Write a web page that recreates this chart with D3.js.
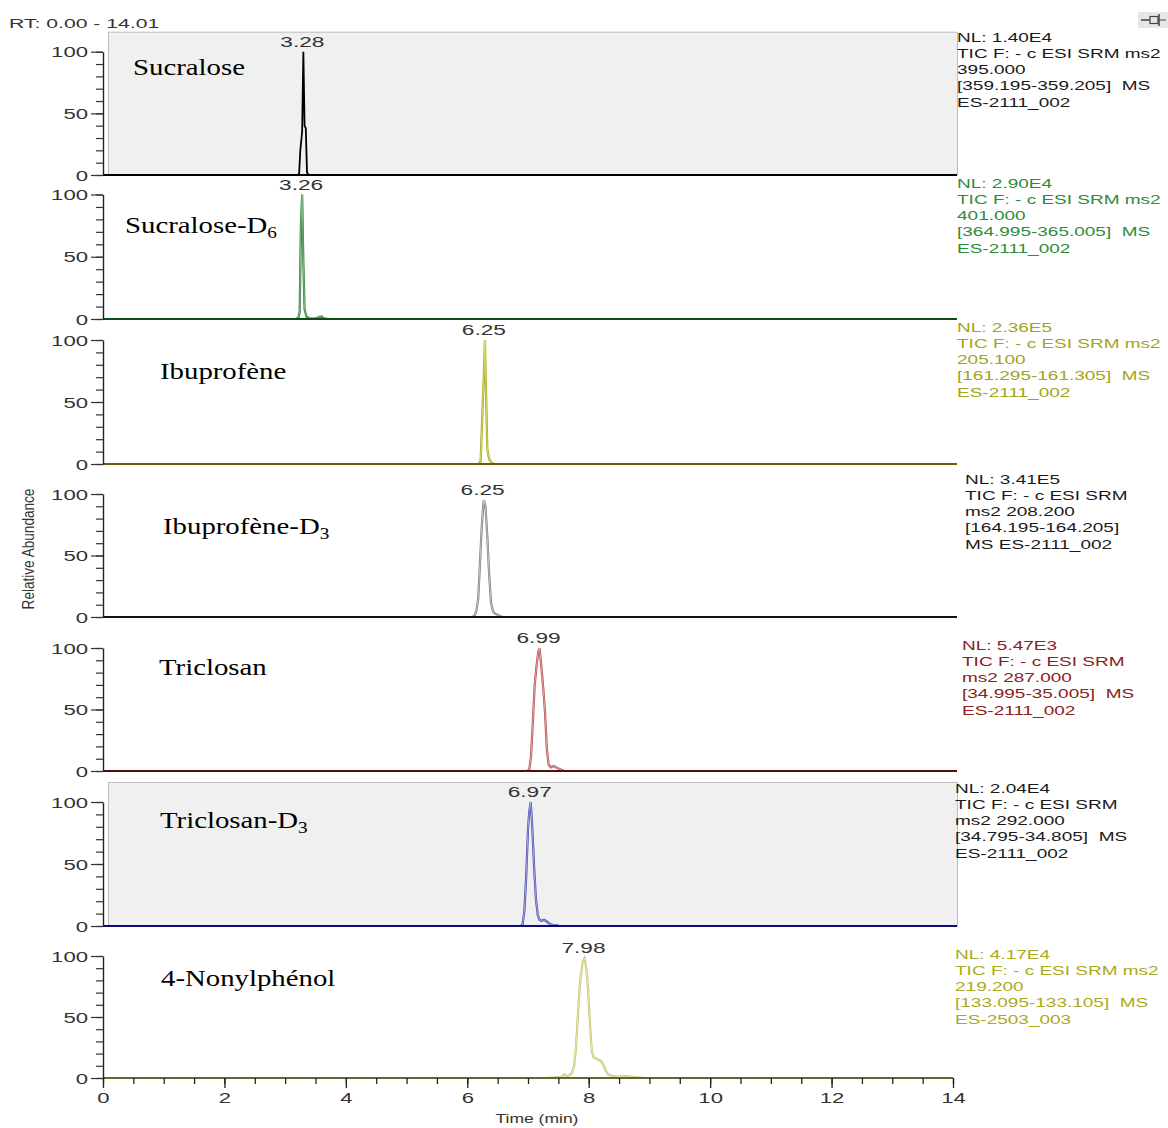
<!DOCTYPE html>
<html><head><meta charset="utf-8">
<script src="https://cdn.jsdelivr.net/npm/d3@7"></script>
<style>body{margin:0;background:#fff} svg{display:block} text{white-space:pre}</style>
</head><body><svg id="c" width="1168" height="1128"></svg>
<script>
// ---------------- DATA ----------------
const compoundNames = ["Sucralose", "Sucralose-D", "Ibuprofène", "Ibuprofène-D", "Triclosan", "Triclosan-D", "4-Nonylphénol"];
const compoundSubscripts = ["", "6", "", "3", "", "3", ""];
const peakLabels = ["3.28", "3.26", "6.25", "6.25", "6.99", "6.97", "7.98"];
const annotations = [
  ["NL: 1.40E4", "TIC F: - c ESI SRM ms2", "395.000", "[359.195-359.205]  MS", "ES-2111_002"],
  ["NL: 2.90E4", "TIC F: - c ESI SRM ms2", "401.000", "[364.995-365.005]  MS", "ES-2111_002"],
  ["NL: 2.36E5", "TIC F: - c ESI SRM ms2", "205.100", "[161.295-161.305]  MS", "ES-2111_002"],
  ["NL: 3.41E5", "TIC F: - c ESI SRM", "ms2 208.200", "[164.195-164.205]", "MS ES-2111_002"],
  ["NL: 5.47E3", "TIC F: - c ESI SRM", "ms2 287.000", "[34.995-35.005]  MS", "ES-2111_002"],
  ["NL: 2.04E4", "TIC F: - c ESI SRM", "ms2 292.000", "[34.795-34.805]  MS", "ES-2111_002"],
  ["NL: 4.17E4", "TIC F: - c ESI SRM ms2", "219.200", "[133.095-133.105]  MS", "ES-2503_003"]
];
const xMajorTicks = [0, 2, 4, 6, 8, 10, 12, 14];
const yMajorTicks = [0, 50, 100];
const rangeLabel = "RT: 0.00 - 14.01";
const xTitle = "Time (min)";
const yTitle = "Relative Abundance";

// traces: [time (min), relative abundance (%)]
const sucraloseTrace = [[0,0],[3.20,0],[3.23,1],[3.25,20],[3.28,35],[3.30,100],[3.32,40],[3.34,38],[3.36,2],[3.39,0],[14,0]];
const sucraloseD6Trace = [[0,0],[3.18,0],[3.22,1],[3.24,6],[3.26,76],[3.28,100],[3.30,45],[3.32,8],[3.35,2],[3.40,0.5],[3.50,0.3],[3.56,1.5],[3.60,2],[3.64,0.5],[3.70,0],[14,0]];
const ibuprofenTrace = [[0,0],[6.18,0],[6.22,2],[6.24,30],[6.27,68],[6.29,100],[6.31,55],[6.33,12],[6.36,4],[6.40,1],[6.44,0],[14,0]];
const ibuprofenD3Trace = [[0,0],[6.08,0],[6.12,1],[6.15,5],[6.18,15],[6.21,45],[6.24,75],[6.27,95],[6.30,90],[6.33,65],[6.36,35],[6.39,12],[6.42,5],[6.45,3],[6.49,2],[6.53,1],[6.58,0],[14,0]];
const triclosanTrace = [[0,0],[6.98,0],[7.02,1],[7.05,12],[7.08,40],[7.11,70],[7.14,85],[7.17,97],[7.19,100],[7.22,85],[7.25,68],[7.28,48],[7.31,18],[7.34,5],[7.38,3],[7.42,4],[7.46,3],[7.50,2],[7.55,1],[7.60,0],[14,0]];
const triclosanD3Trace = [[0,0],[6.88,0],[6.91,1],[6.94,12],[6.97,40],[7.00,78],[7.02,92],[7.045,100],[7.07,80],[7.10,48],[7.13,22],[7.16,9],[7.19,5],[7.22,4],[7.26,5],[7.30,4],[7.35,2],[7.40,1],[7.47,0.5],[7.52,0],[14,0]];
const nonylphenolTrace = [[0,0],[7.30,0],[7.45,0.5],[7.55,1],[7.60,3],[7.63,1.5],[7.68,2],[7.72,4],[7.76,10],[7.79,25],[7.82,50],[7.86,80],[7.90,95],[7.93,98],[7.96,90],[7.99,72],[8.02,45],[8.05,22],[8.08,17],[8.12,16],[8.16,15],[8.20,14],[8.24,11],[8.28,6],[8.32,3],[8.36,2],[8.42,1.5],[8.50,1],[8.60,1.5],[8.70,1],[8.80,0.5],[8.90,0],[14,0]];
const traces = [sucraloseTrace, sucraloseD6Trace, ibuprofenTrace, ibuprofenD3Trace, triclosanTrace, triclosanD3Trace, nonylphenolTrace];

// ---------------- LAYOUT & STYLE ----------------
const panelY100 = [51.7, 194.5, 340, 494, 648, 802, 956];
const panelY0 = [175, 319, 464, 617, 771, 926, 1078];
const grayPanel = [true, false, false, false, false, true, false];
const nameX = [133, 125, 160, 163, 159, 160, 161];
const nameBaseline = [75, 233, 379, 534, 675, 828, 986];
const annoX = [957, 957, 957, 965, 962, 955, 955];
const annoFirstCenter = [37, 183, 327, 479, 645, 788, 954];
const traceColor = ["#000000", "#2f7a34", "#a3a31c", "#7a7a7a", "#b24a4a", "#4848b0", "#c2c270"];
const traceInner = [null, "#a6d6a6", "#f2f28a", "#e2e2e2", "#f2c8c8", "#cacaf4", "#f6f6cc"];
const baselineColor = ["#000000", "#0b4d12", "#6e5a0a", "#111111", "#5a0c0c", "#0a0a7a", "#66662a"];
const annoColor = ["#1a1a1a", "#2e8b3a", "#a3a320", "#1a1a1a", "#8a2020", "#1a1a1a", "#aaaa20"];

const SANS = "'Liberation Sans', Arial, sans-serif";
const SERIF = "'Liberation Serif', 'Times New Roman', serif";
const SX = 1.58;
const TICK_FS = 14;

const svg = d3.select("#c");
const x = d3.scaleLinear().domain([0, 14]).range([103, 953]);

function sText(parent, px, py, str, o = {}) {
  return parent.append("text")
    .attr("transform", `translate(${px},${py}) scale(${o.sx ?? SX},1)`)
    .attr("text-anchor", o.anchor || "start")
    .attr("font-family", o.family || SANS)
    .attr("font-size", o.size || 13)
    .attr("fill", o.fill || "#2a2a2a")
    .text(str);
}

// header
sText(svg, 9, 28, rangeLabel, {size: 13.5, fill: "#333", sx: 1.57});
// pin icon
const pin = svg.append("g");
pin.append("rect").attr("x", 1138).attr("y", 12).attr("width", 30).attr("height", 16).attr("fill", "#e6e6e6");
pin.append("line").attr("x1", 1141).attr("x2", 1150).attr("y1", 20).attr("y2", 20).attr("stroke", "#444").attr("stroke-width", 1.5);
pin.append("rect").attr("x", 1150).attr("y", 16.5).attr("width", 8).attr("height", 7).attr("fill", "none").attr("stroke", "#444").attr("stroke-width", 1.2);
pin.append("line").attr("x1", 1159).attr("x2", 1159).attr("y1", 14).attr("y2", 26).attr("stroke", "#444").attr("stroke-width", 1.5);
pin.append("line").attr("x1", 1159).attr("x2", 1166).attr("y1", 20).attr("y2", 20).attr("stroke", "#444").attr("stroke-width", 1);

traces.forEach((data, i) => {
  const y = d3.scaleLinear().domain([0, 100]).range([panelY0[i], panelY100[i]]);
  const g = svg.append("g");

  if (grayPanel[i]) {
    g.append("rect")
      .attr("x", 108.5).attr("y", panelY100[i] - 19.5)
      .attr("width", 849).attr("height", panelY0[i] - panelY100[i] + 19.5)
      .attr("fill", "#f0f0f0").attr("stroke", "#bcbcbc").attr("stroke-width", 1);
  }

  const line = d3.line().x(d => x(d[0])).y(d => y(d[1]));
  g.append("path").datum(data).attr("d", line)
    .attr("fill", "none").attr("stroke", traceColor[i]).attr("stroke-width", traceInner[i] ? 2.2 : 1.8)
    .attr("stroke-linejoin", "miter");
  if (traceInner[i]) {
    g.append("path").datum(data).attr("d", line)
      .attr("fill", "none").attr("stroke", traceInner[i]).attr("stroke-width", 0.7);
  }

  // baseline
  const xEnd = i === traces.length - 1 ? x(14) : 957;
  g.append("line").attr("x1", x(0)).attr("x2", xEnd)
    .attr("y1", y(0)).attr("y2", y(0))
    .attr("stroke", baselineColor[i]).attr("stroke-width", 2.2);

  // y axis minor + major
  const yMinor = d3.axisLeft(y).tickValues(d3.range(0, 101, 10)).tickSize(7).tickSizeOuter(0).tickFormat("");
  const ga = g.append("g").attr("transform", `translate(${x(0)},0)`).call(yMinor);
  ga.select(".domain").attr("stroke", "#222").attr("stroke-width", 1.4);
  ga.selectAll(".tick line").attr("stroke", "#333").attr("stroke-width", 1.2);
  const yMajor = d3.axisLeft(y).tickValues(yMajorTicks).tickSize(12).tickSizeOuter(0);
  const gm = g.append("g").attr("transform", `translate(${x(0)},0)`).call(yMajor);
  gm.select(".domain").remove();
  gm.selectAll(".tick line").attr("stroke", "#333").attr("stroke-width", 1.2);
  gm.selectAll(".tick text")
    .attr("font-family", SANS).attr("font-size", TICK_FS).attr("fill", "#333")
    .attr("x", -15 / SX).attr("dy", "0.36em")
    .attr("transform", `scale(${SX},1)`);

  // peak label at apex
  const apex = data.reduce((a, b) => (b[1] > a[1] ? b : a));
  sText(g, x(apex[0]) - 1, y(apex[1]) - 5, peakLabels[i], {anchor: "middle", size: TICK_FS, fill: "#333", sx: 1.62});

  // compound name
  const nt = g.append("text")
    .attr("transform", `translate(${nameX[i]},${nameBaseline[i]}) scale(1.2,1)`)
    .attr("font-family", SERIF).attr("font-size", 24).attr("fill", "#000");
  nt.append("tspan").text(compoundNames[i]);
  if (compoundSubscripts[i]) nt.append("tspan").attr("font-size", 16).attr("dy", 5).text(compoundSubscripts[i]);

  // right annotation
  annotations[i].forEach((s, k) => {
    sText(g, annoX[i], annoFirstCenter[i] + 4.5 + k * 16.3, s, {size: 12.5, fill: annoColor[i], sx: 1.52});
  });
});

// x axis on last panel
const lastY0 = panelY0[panelY0.length - 1];
const xMinor = d3.axisBottom(x).tickValues(d3.range(0, 14.001, 0.5)).tickSize(6).tickSizeOuter(0).tickFormat("");
const gx = svg.append("g").attr("transform", `translate(0,${lastY0})`).call(xMinor);
gx.select(".domain").remove();
gx.selectAll(".tick line").attr("stroke", "#222").attr("stroke-width", 1.3);
const xMajor = d3.axisBottom(x).tickValues(xMajorTicks).tickSize(10).tickSizeOuter(0);
const gX = svg.append("g").attr("transform", `translate(0,${lastY0})`).call(xMajor);
gX.select(".domain").remove();
gX.selectAll(".tick line").attr("stroke", "#222").attr("stroke-width", 1.3);
gX.selectAll(".tick text")
  .attr("font-family", SANS).attr("font-size", TICK_FS).attr("fill", "#333")
  .attr("y", 25.5).attr("dy", 0)
  .attr("transform", `scale(${SX},1)`);

// titles
sText(svg, 537, 1123, xTitle, {anchor: "middle", size: 12.5, sx: 1.4, fill: "#333"});
svg.append("text")
  .attr("transform", "translate(34,549) rotate(-90) scale(0.8,1)")
  .attr("text-anchor", "middle")
  .attr("font-family", SANS).attr("font-size", 17).attr("fill", "#333")
  .text(yTitle);
</script>
</body></html>
